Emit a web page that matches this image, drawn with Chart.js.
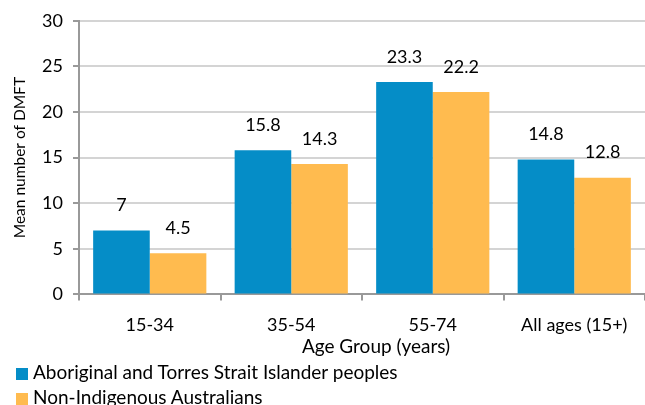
<!DOCTYPE html>
<html>
<head>
<meta charset="utf-8">
<script src="https://cdn.jsdelivr.net/npm/chart.js@4"></script>
<style>
  body { margin: 0; background: #fff; font-family: Lato, sans-serif; }
  #wrap { position: relative; width: 645px; height: 405px; overflow: hidden; }
  #legend { position: absolute; left: 16px; top: 360px; font-size: 19px; color: #000; }
  .item { height: 25px; line-height: 24px; white-space: nowrap; }
  .sw { display: inline-block; width: 12px; height: 12px; margin-right: 5px; vertical-align: -1px; }
</style>
</head>
<body>
<div id="wrap">
  <canvas id="myChart" width="645" height="405"></canvas>
  <div id="legend"></div>
</div>
<script>
// data
const categories = ["15-34", "35-54", "55-74", "All ages (15+)"];
const indigenous = [7, 15.8, 23.3, 14.8];
const nonIndigenous = [4.5, 14.3, 22.2, 12.8];
const seriesNames = ["Aboriginal and Torres Strait Islander peoples", "Non-Indigenous Australians"];
const seriesColors = ["#058dc7", "#ffbb4f"];
const xTitle = "Age Group (years)";
const yTitle = "Mean number of DMFT";

const fontName = "Lato";

// value labels above each bar
const valueLabels = {
    id: 'valueLabels',
    afterDatasetsDraw(chart) {
        const ctx = chart.ctx;
        ctx.save();
        ctx.font = "18px " + fontName;
        ctx.fillStyle = "#000";
        ctx.textAlign = "center";
        ctx.textBaseline = "middle";
        chart.data.datasets.forEach((ds, i) => {
            chart.getDatasetMeta(i).data.forEach((bar, j) => {
                ctx.fillText(String(ds.data[j]), bar.x, bar.y - 25);
            });
        });
        ctx.restore();
    }
};

// x axis title, sits a bit right of the plot centre like the original
const xAxisTitle = {
    id: 'xAxisTitle',
    afterDraw(chart) {
        const ctx = chart.ctx;
        const area = chart.chartArea;
        ctx.save();
        ctx.font = "19px " + fontName;
        ctx.fillStyle = "#000";
        ctx.textAlign = "center";
        ctx.textBaseline = "middle";
        ctx.fillText(xTitle, (area.left + area.right) / 2 + 14, area.bottom + 52);
        ctx.restore();
    }
};

function createDataSet(label, color, data) {
    return {
        label: label,
        data: data,
        backgroundColor: color,
        borderWidth: 0,
        categoryPercentage: 0.8,
        barPercentage: 1.0
    };
}

const ctx = document.getElementById('myChart');

let chart1 = new Chart(ctx, {
    type: 'bar',
    data: {
        labels: categories,
        datasets: [
            createDataSet(seriesNames[0], seriesColors[0], indigenous),
            createDataSet(seriesNames[1], seriesColors[1], nonIndigenous)
        ]
    },
    plugins: [valueLabels, xAxisTitle],
    options: {
        responsive: false,
        animation: false,
        layout: { padding: { top: 10, right: 0, bottom: 55, left: 0 } },
        plugins: {
            legend: { display: false },
            tooltip: { enabled: false }
        },
        scales: {
            x: {
                grid: {
                    offset: true,
                    drawOnChartArea: false,
                    tickLength: 6,
                    tickColor: "#999999",
                    lineWidth: 2
                },
                border: { color: "#999999", width: 2 },
                ticks: { color: "#000", font: { family: fontName, size: 18 }, padding: 14, maxRotation: 0 }
            },
            y: {
                min: 0,
                max: 30,
                ticks: { stepSize: 5, color: "#000", font: { family: fontName, size: 18 }, padding: 10 },
                grid: {
                    color: "#d4d4d4",
                    lineWidth: 2,
                    tickLength: 6,
                    tickColor: "#999999"
                },
                border: { color: "#999999", width: 2 },
                title: {
                    display: true,
                    text: yTitle,
                    color: "#000",
                    font: { family: fontName, size: 15.5 },
                    padding: { top: 11, bottom: 0 }
                },
                afterFit(s) { s.width = 79; }
            }
        }
    }
});

// legend, one entry per line
const legend = document.getElementById('legend');
seriesNames.forEach((name, i) => {
    const row = document.createElement('div');
    row.className = 'item';
    row.innerHTML = '<span class="sw" style="background:' + seriesColors[i] + '"></span>' + name;
    legend.appendChild(row);
});
</script>
</body>
</html>
